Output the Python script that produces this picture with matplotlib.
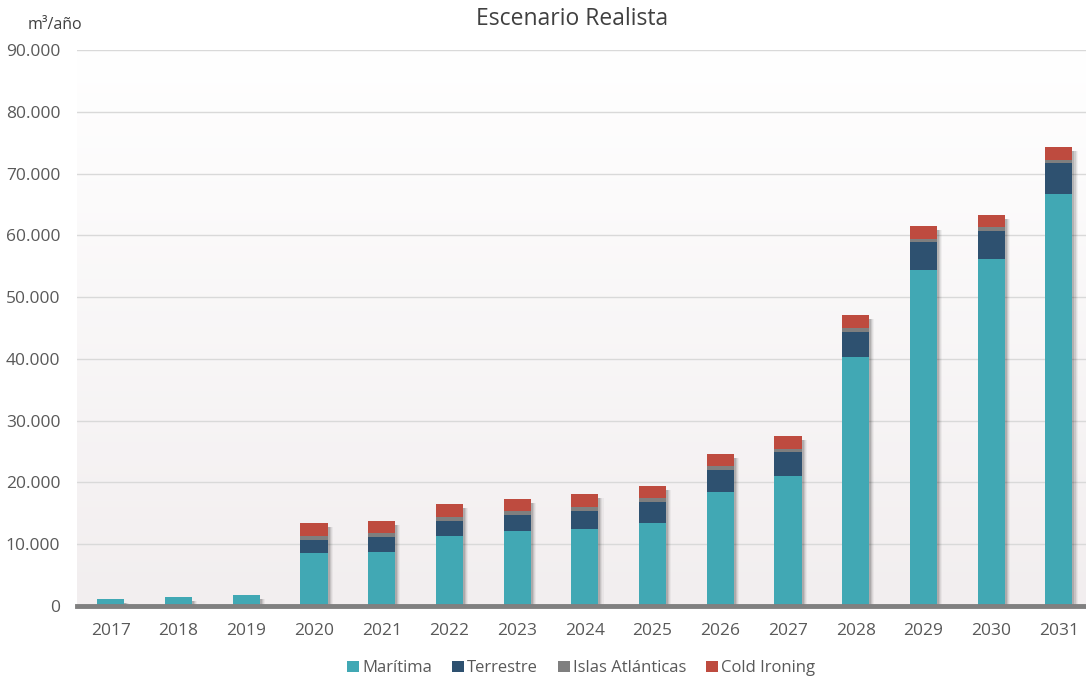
import matplotlib.pyplot as plt
import numpy as np
from matplotlib.ticker import FuncFormatter

years = ['2017', '2018', '2019', '2020', '2021', '2022', '2023', '2024',
         '2025', '2026', '2027', '2028', '2029', '2030', '2031']
maritima = [1200, 1400, 1800, 8630, 8790, 11390, 12100, 12470, 13490,
            18460, 21050, 40370, 54410, 56190, 66720]
terrestre = [0, 0, 0, 2110, 2430, 2430, 2690, 2970, 3350,
             3610, 3840, 4050, 4430, 4540, 4910]
islas = [0, 0, 0, 550, 550, 540, 540, 540, 600,
         550, 540, 600, 540, 540, 600]
cold_ironing = [0, 0, 0, 2100, 2000, 2160, 2050, 2160, 2040,
                1950, 2150, 2110, 2110, 2100, 2100]

series = [('Marítima', maritima, '#41a8b4'),
          ('Terrestre', terrestre, '#2e5170'),
          ('Islas Atlánticas', islas, '#7f7f7f'),
          ('Cold Ironing', cold_ironing, '#be4b3f')]

plt.rcParams['font.family'] = ['Open Sans', 'DejaVu Sans']

fig = plt.figure(figsize=(10.86, 6.8), dpi=100)
ax = fig.add_axes([0.0709, 0.1088, 0.9291, 0.8177])

x = np.arange(len(years))
width = 0.4

# background gradient (white at top, light pinkish grey at bottom)
grad = np.linspace(0, 1, 256).reshape(-1, 1)
top = np.array([1.0, 1.0, 1.0])
bot = np.array([0xf2, 0xee, 0xef]) / 255
img = top * (1 - grad[..., None]) + bot * grad[..., None]
ax.imshow(img, extent=[-0.5, 14.4, 0, 90000], aspect='auto', zorder=0)

totals = np.sum([s[1] for s in series], axis=0)

# soft drop shadow
for off, a in [(0.075, 0.04), (0.06, 0.06), (0.045, 0.09), (0.03, 0.12)]:
    ax.bar(x + off, totals + 150, width, bottom=-800, color='black', alpha=a,
           linewidth=0, zorder=1)

bottom = np.zeros(len(years))
for name, vals, color in series:
    ax.bar(x, vals, width, bottom=bottom, color=color, label=name,
           linewidth=0, zorder=2)
    bottom += np.array(vals)

ax.set_xlim(-0.5, 14.4)
ax.set_ylim(0, 90000)
ax.set_yticks(np.arange(0, 90001, 10000))
ax.yaxis.set_major_formatter(FuncFormatter(lambda v, p: f'{int(v):,}'.replace(',', '.')))
ax.set_xticks(x)
ax.set_xticklabels(years)
ax.set_axisbelow(True)
ax.grid(axis='y', color='#d9d9d9', linewidth=1)
for s in ['top', 'right', 'left']:
    ax.spines[s].set_visible(False)
ax.spines['bottom'].set_color('#808080')
ax.spines['bottom'].set_linewidth(3.5)
ax.spines['bottom'].set_zorder(3)
ax.tick_params(axis='both', length=0, labelsize=12.5, colors='#595959')
ax.tick_params(axis='x', pad=12)
ax.tick_params(axis='y', pad=12)

fig.text(0.527, 0.972, 'Escenario Realista', ha='center', va='center',
         fontsize=16.5, color='#404040')
fig.text(0.025, 0.963, 'm³/año', ha='left', va='center', fontsize=11.5, color='#404040')

ax.legend(loc='center', bbox_to_anchor=(0.5, -0.112), ncol=4, frameon=False,
          fontsize=12, handlelength=0.7, handleheight=0.7, handletextpad=0.2,
          columnspacing=1.2, labelcolor='#595959')

fig.savefig('out.png', dpi=100)
